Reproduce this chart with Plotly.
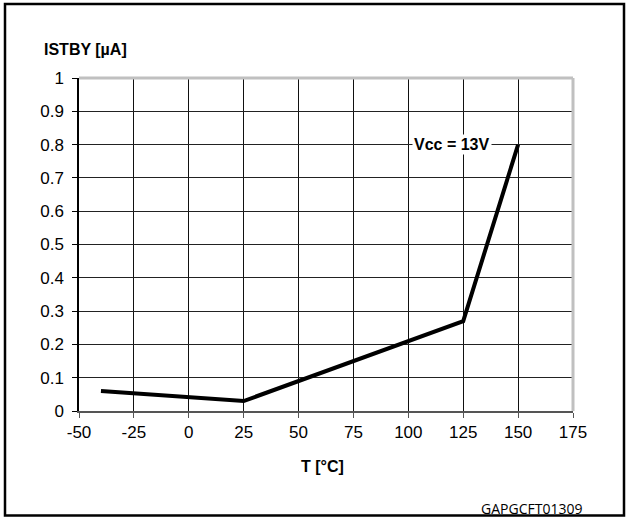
import plotly.graph_objects as go

temps = [-40, 25, 125, 150]
istby = [0.06, 0.03, 0.27, 0.80]
x_ticks = [-50, -25, 0, 25, 50, 75, 100, 125, 150, 175]
y_ticks = [0, 0.1, 0.2, 0.3, 0.4, 0.5, 0.6, 0.7, 0.8, 0.9, 1]
y_title = "ISTBY [µA]"
x_title = "T [°C]"
series_label = "Vcc = 13V"
code_label = "GAPGCFT01309"

W, H = 626, 518
L, R, T, B = 79, 53, 78, 107
pw, ph = W - L - R, H - T - B

def px(x):
    return (x - L) / pw

def py(y):
    return (H - B - y) / ph

FONT = "Liberation Sans, Arial, sans-serif"

fig = go.Figure()
fig.add_trace(go.Scatter(x=temps, y=istby, mode="lines",
                         line=dict(color="black", width=4), showlegend=False,
                         hoverinfo="skip"))

fig.update_layout(
    width=W, height=H,
    margin=dict(l=L, r=R, t=T, b=B),
    paper_bgcolor="white", plot_bgcolor="white",
    font=dict(family=FONT, size=17, color="black"),
    xaxis=dict(range=[-50, 175], tickvals=x_ticks, ticktext=[str(v) for v in x_ticks],
               showgrid=True, gridcolor="#111111", gridwidth=1,
               zeroline=False, showline=True, linecolor="#555555", linewidth=2,
               ticks="outside", ticklen=5, tickcolor="#555555",
               tickfont=dict(family=FONT, size=17)),
    yaxis=dict(range=[0, 1], tickvals=y_ticks,
               ticktext=["0" if v == 0 else ("1" if v == 1 else f"{v:.1f}") for v in y_ticks],
               showgrid=True, gridcolor="#222222", gridwidth=1,
               zeroline=False, showline=True, linecolor="black", linewidth=1.5,
               ticks="outside", ticklen=5, tickcolor="black", ticklabelstandoff=5,
               tickfont=dict(family=FONT, size=17)),
    shapes=[
        dict(type="line", xref="paper", yref="paper", x0=0, x1=1, y0=1, y1=1,
             line=dict(color="#c0c0c0", width=3)),
        dict(type="line", xref="paper", yref="paper", x0=1, x1=1, y0=0, y1=1,
             line=dict(color="#c0c0c0", width=3)),
        dict(type="rect", xref="paper", yref="paper",
             x0=px(5), x1=px(624), y0=py(515.5), y1=py(4),
             line=dict(color="black", width=2.5), fillcolor="rgba(0,0,0,0)"),
    ],
    annotations=[
        dict(text=f"<b>{y_title}</b>", xref="paper", yref="paper",
             x=px(42), y=py(49), xanchor="left", yanchor="middle",
             showarrow=False, font=dict(family=FONT, size=16)),
        dict(text=f"<b>{x_title}</b>", xref="paper", yref="paper",
             x=px(322), y=py(466), xanchor="center", yanchor="middle",
             showarrow=False, font=dict(family=FONT, size=16)),
        dict(text=code_label, xref="paper", yref="paper",
             x=px(584), y=py(508), xanchor="right", yanchor="middle",
             showarrow=False, font=dict(family="Open Sans, sans-serif", size=14)),
        dict(text=f"<b>{series_label}</b>", xref="x", yref="y",
             x=temps[-1], y=istby[-1], xanchor="right", yanchor="middle",
             xshift=-26, showarrow=False, bgcolor="white", borderpad=1,
             font=dict(family=FONT, size=16)),
    ],
)

fig.write_html("out.html", config={"displayModeBar": False},
               post_script="document.body.style.margin='0';")
